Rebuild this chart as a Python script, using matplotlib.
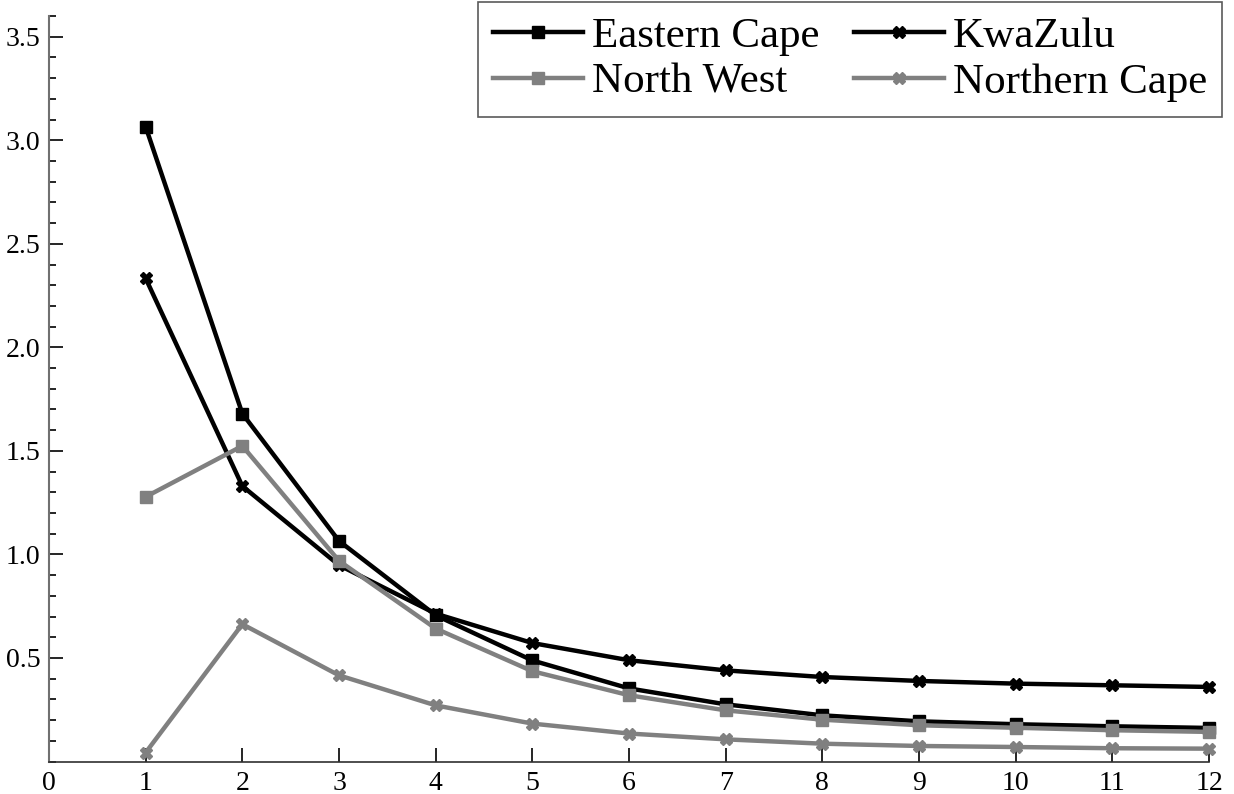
import numpy as np
import matplotlib
matplotlib.use("Agg")
from matplotlib import pyplot as plt
from matplotlib.ticker import MultipleLocator

plt.rcParams['font.family'] = ['Liberation Serif', 'DejaVu Serif']

# values
x = [1, 2, 3, 4, 5, 6, 7, 8, 9, 10, 11, 12]
eastern_cape = [3.065, 1.68, 1.065, 0.706, 0.488, 0.353, 0.276, 0.223, 0.194, 0.18, 0.17, 0.162]
kwazulu = [2.333, 1.33, 0.948, 0.714, 0.572, 0.489, 0.44, 0.408, 0.389, 0.376, 0.368, 0.36]
north_west = [1.278, 1.524, 0.969, 0.642, 0.436, 0.32, 0.247, 0.202, 0.175, 0.163, 0.151, 0.143]
northern_cape = [0.043, 0.663, 0.416, 0.271, 0.183, 0.135, 0.107, 0.086, 0.075, 0.07, 0.064, 0.062]

GRAY = '#808080'

fig = plt.figure(figsize=(12.34, 7.94), dpi=100)
ax = fig.add_axes([49/1234, 32.5/794, (1209-49)/1234, (761.5-16)/794])

ec, = ax.plot(x, eastern_cape, color='black', lw=3.2, marker='s', ms=9, label='Eastern Cape')
kz, = ax.plot(x, kwazulu, color='black', lw=3.2, marker='X', ms=9, label='KwaZulu')
nw, = ax.plot(x, north_west, color=GRAY, lw=3.2, marker='s', ms=9, label='North West')
nc, = ax.plot(x, northern_cape, color=GRAY, lw=3.2, marker='X', ms=9, label='Northern Cape')

ax.set_xlim(0, 12)
ax.set_ylim(0, 3.6)
ax.set_xticks(range(0, 13))
ax.set_yticks([0.5, 1.0, 1.5, 2.0, 2.5, 3.0, 3.5])
ax.yaxis.set_minor_locator(MultipleLocator(0.1))
ax.tick_params(axis='both', which='major', direction='in', length=10, width=1.2, labelsize=20, colors='black')
ax.tick_params(axis='y', which='minor', direction='in', length=5, width=1.2)
ax.tick_params(axis='x', pad=7)
ax.tick_params(axis='y', pad=6)

for side in ['top', 'right']:
    ax.spines[side].set_visible(False)
ax.spines['left'].set_color('#707070')
ax.spines['left'].set_linewidth(1.5)
ax.spines['bottom'].set_color('#303030')
ax.spines['bottom'].set_linewidth(1.2)
for line in ax.lines:
    line.set_clip_on(False)

# row-wise order: matplotlib fills the legend column by column
handles = [ec, nw, kz, nc]
labels = [h.get_label() for h in handles]
leg = fig.legend(handles, labels, loc='upper right', bbox_to_anchor=(1222/1234, 1 - 2/794), ncol=2,
                 fontsize=31, fancybox=False, borderaxespad=0, handlelength=2.1,
                 handletextpad=0.2, columnspacing=0.8, labelspacing=0.15, borderpad=0.35)
leg.get_frame().set_edgecolor('#303030')
leg.get_frame().set_linewidth(1.2)

fig.savefig('out.png', dpi=100)
